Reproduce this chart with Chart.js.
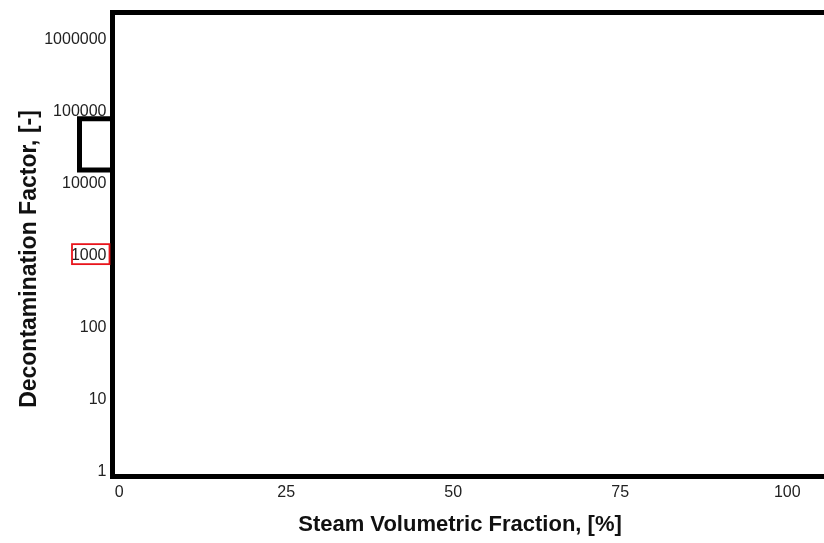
<html>
  <head>
    <script src="https://cdn.jsdelivr.net/npm/chart.js"></script>
    <meta charset="UTF-8" />
    <style>
      body { margin: 0; background: #fff; }
    </style>
  </head>
  <body>
    <canvas id="myChart" width="824" height="543"></canvas>
    <script>
      // tick values
      const xTicks = [0, 25, 50, 75, 100];
      const yTicks = [1, 10, 100, 1000, 10000, 100000, 1000000];
      // no points are drawn in the reference, so the series are empty
      const steamFraction = [];
      const decontaminationFactor = [];

      const xTitle = "Steam Volumetric Fraction, [%]";
      const yTitle = "Decontamination Factor, [-]";
      const tickFont = { family: "'Liberation Sans', Arial, sans-serif", size: 16 };
      const xTitleFont = "bold 22px 'Liberation Sans', Arial, sans-serif";
      const yTitleFont = "bold 23px 'Liberation Sans', Arial, sans-serif";

      // frame, empty legend box, red marker on the 1000 label, axis titles
      const decorations = {
        id: "decorations",
        afterDraw(chart) {
          const { ctx, chartArea: a, scales } = chart;
          ctx.save();
          ctx.strokeStyle = "#000";
          ctx.lineWidth = 5;
          ctx.lineJoin = "miter";
          ctx.beginPath();
          ctx.moveTo(a.right + 10, a.top);
          ctx.lineTo(a.left, a.top);
          ctx.lineTo(a.left, a.bottom);
          ctx.lineTo(a.right + 10, a.bottom);
          ctx.stroke();

          // empty legend box hanging off the left axis
          const boxTop = scales.y.getPixelForValue(80000);
          const boxBottom = scales.y.getPixelForValue(15500);
          ctx.beginPath();
          ctx.moveTo(a.left, boxTop);
          ctx.lineTo(a.left - 33, boxTop);
          ctx.lineTo(a.left - 33, boxBottom);
          ctx.lineTo(a.left, boxBottom);
          ctx.stroke();

          // red box around the 1000 tick label
          const y1000 = scales.y.getPixelForValue(1000);
          ctx.strokeStyle = "#e8141b";
          ctx.lineWidth = 1.8;
          ctx.strokeRect(a.left - 40.5, y1000 - 11.5, 37.5, 20);

          ctx.fillStyle = "#111";
          ctx.textAlign = "center";
          ctx.textBaseline = "middle";
          ctx.font = xTitleFont;
          ctx.fillText(xTitle, 460, 525);
          ctx.font = yTitleFont;
          ctx.translate(30, 259);
          ctx.rotate(-Math.PI / 2);
          ctx.fillText(yTitle, 0, 0);
          ctx.restore();
        },
      };

      const config = {
        type: "scatter",
        data: {
          datasets: [
            {
              label: "DF",
              data: steamFraction.map((x, i) => ({ x, y: decontaminationFactor[i] })),
              borderColor: "#000",
              backgroundColor: "#000",
            },
          ],
        },
        options: {
          responsive: false,
          animation: false,
          devicePixelRatio: 1,
          layout: { padding: { top: 12.5, right: 0, left: 0, bottom: 0 } },
          plugins: {
            legend: { display: false },
            tooltip: { enabled: false },
          },
          scales: {
            x: {
              type: "linear",
              min: -1,
              max: 105.5,
              grid: { display: false, drawTicks: false },
              border: { display: false },
              afterBuildTicks: (s) => {
                s.ticks = xTicks.map((v) => ({ value: v }));
              },
              afterFit: (s) => {
                s.height = 66.5;
                s.paddingLeft = 0;
                s.paddingRight = 0;
              },
              ticks: {
                autoSkip: false,
                maxRotation: 0,
                padding: 6,
                color: "#222",
                font: tickFont,
              },
            },
            y: {
              type: "logarithmic",
              min: 0.85,
              max: 2400000,
              grid: { display: false, drawTicks: false },
              border: { display: false },
              afterBuildTicks: (s) => {
                s.ticks = yTicks.map((v) => ({ value: v }));
              },
              afterFit: (s) => {
                s.width = 112.5;
                s.paddingTop = 0;
                s.paddingBottom = 0;
              },
              ticks: {
                autoSkip: false,
                padding: 6,
                color: "#222",
                font: tickFont,
                callback: (v) => String(v),
              },
            },
          },
        },
        plugins: [decorations],
      };

      new Chart(document.getElementById("myChart"), config);
    </script>
  </body>
</html>
